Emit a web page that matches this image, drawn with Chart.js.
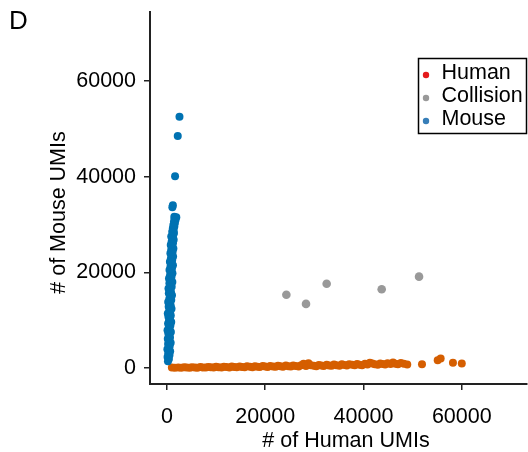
<!DOCTYPE html>
<html><head><meta charset="utf-8">
<script src="https://cdn.jsdelivr.net/npm/chart.js@4"></script>
<style>html,body{margin:0;padding:0;background:#fff}#wrap{width:528px;height:452px;position:relative}</style>
</head><body><div id="wrap"><canvas id="c" width="528" height="452"></canvas></div>
<script>
const panelLabel = 'D';
const xTitle = '# of Human UMIs';
const yTitle = '# of Mouse UMIs';
const seriesNames = ['Human', 'Collision', 'Mouse'];
const legendColors = ['#E41A1C', '#999999', '#377EB8'];
const pointColors = ['#D55E00', '#999999', '#0072B2'];
const xTicks = [0, 20000, 40000, 60000];
const yTicks = [0, 20000, 40000, 60000];

const humanX = [1000,1600,2300,2900,3500,4000,4600,5100,5700,6200,6800,7300,7900,8400,8900,9500,10000,10500,11100,11600,12100,12700,13200,13700,14200,14800,15300,15800,16300,16900,17400,17900,18400,18900,19500,20000,20500,21000,21600,22100,22600,23100,23600,24200,24700,25200,25700,26200,26800,27300,27800,28300,28800,29300,29900,30400,30900,31400,31900,32500,33000,33500,34000,34500,35100,35600,36100,36600,37100,37700,38200,38700,39200,39700,40300,40800,41300,41800,42300,42900,43400,43900,44400,44900,45500,46000,46500,47000,47600,48200,48900,51900,55100,55700,58200,60000];
const humanY = [80,40,120,60,150,90,30,160,110,60,200,130,80,220,150,100,240,170,90,260,190,130,300,210,140,320,230,160,350,250,180,380,280,200,400,300,220,430,330,250,460,350,270,500,380,300,530,400,320,560,900,440,1000,600,460,380,640,500,420,680,540,450,720,580,480,760,620,520,800,660,560,840,700,600,880,740,1100,920,780,680,960,820,720,1000,860,1150,900,800,1050,900,750,800,1600,2000,1100,950];

const collisionX = [24300, 28300, 32500, 43700, 51300];
const collisionY = [15300, 13400, 17600, 16450, 19100];

const mouseX = [200,400,120,520,260,650,90,380,560,230,760,350,170,620,460,280,800,120,520,380,700,230,870,440,600,300,780,170,660,500,930,350,750,560,250,880,480,700,1020,380,820,600,310,960,690,500,1100,780,410,920,620,1120,810,520,1020,720,1220,870,600,1070,800,1250,950,700,1150,870,1310,1020,770,1220,950,1370,1100,870,1270,1430,1070,1350,1200,1500,1310,1620,1430,1750,1560,1900,1500,1100,1200,1650,2200,2550];
const mouseY = [1400,1900,2300,2700,3100,3500,3900,4200,4600,5000,5300,5700,6100,6400,6800,7200,7500,7900,8200,8600,8900,9300,9600,10000,10300,10700,11000,11400,11700,12100,12400,12800,13100,13500,13800,14200,14500,14900,15200,15600,15900,16300,16600,17000,17300,17700,18000,18400,18700,19100,19400,19800,20100,20500,20800,21200,21500,21900,22200,22600,22900,23300,23600,24000,24300,24700,25000,25400,25700,26100,26400,26800,27100,27500,27800,28200,28500,28900,29200,29600,29900,30300,30600,31000,31300,31500,31600,33600,34000,40100,48500,52500];

const FONT = '"Liberation Sans", Arial, sans-serif';
const toPts = (xs, ys) => xs.map((x, i) => ({x: x, y: ys[i]}));

const annot = {
  id: 'annot',
  afterDraw(chart) {
    const ctx = chart.ctx;
    ctx.save();
    ctx.fillStyle = '#000';
    ctx.textAlign = 'left';
    ctx.textBaseline = 'alphabetic';
    ctx.font = '26px ' + FONT;
    ctx.fillText(panelLabel, 9, 29);
    ctx.font = '21.5px ' + FONT;
    ctx.textAlign = 'center';
    ctx.fillText(xTitle, 346, 446.5);
    ctx.save();
    ctx.translate(65, 212.5);
    ctx.rotate(-Math.PI / 2);
    ctx.fillText(yTitle, 0, 0);
    ctx.restore();
    // legend
    ctx.lineWidth = 1.5;
    ctx.strokeStyle = '#000';
    ctx.strokeRect(418.5, 58.5, 108, 75);
    ctx.textAlign = 'left';
    const base = [79, 102, 125];
    seriesNames.forEach((n, i) => {
      ctx.fillStyle = legendColors[i];
      ctx.beginPath();
      ctx.arc(426, base[i] - 4, 3.2, 0, Math.PI * 2);
      ctx.fill();
      ctx.fillStyle = '#000';
      ctx.fillText(n, 441.5, base[i]);
    });
    ctx.restore();
  }
};

const axisCommon = {
  type: 'linear',
  border: {display: true, color: '#222', width: 2},
  grid: {display: true, drawOnChartArea: false, drawTicks: true, tickLength: 6, color: '#222', lineWidth: 1.5},
  title: {display: false}
};
const tickFont = {family: FONT, size: 21.5};
const plain = v => String(v);

new Chart(document.getElementById('c'), {
  type: 'scatter',
  data: {
    datasets: [
      {label: 'Mouse', data: toPts(mouseX, mouseY), backgroundColor: pointColors[2], borderWidth: 0, pointRadius: 4},
      {label: 'Human', data: toPts(humanX, humanY), backgroundColor: pointColors[0], borderWidth: 0, pointRadius: 4},
      {label: 'Collision', data: toPts(collisionX, collisionY), backgroundColor: pointColors[1], borderWidth: 0, pointRadius: 4.3}
    ]
  },
  options: {
    responsive: false,
    animation: false,
    layout: {autoPadding: false, padding: {top: 12, right: 1, left: 0, bottom: 0}},
    plugins: {legend: {display: false}, tooltip: {enabled: false}},
    scales: {
      x: Object.assign({}, axisCommon, {
        min: -3450, max: 73270,
        ticks: {color: '#000', font: tickFont, padding: 14, maxRotation: 0, callback: plain},
        afterBuildTicks: s => { s.ticks = xTicks.map(v => ({value: v})); },
        afterFit: s => { s.height = 68; s.paddingLeft = 0; s.paddingRight = 0; }
      }),
      y: Object.assign({}, axisCommon, {
        min: -3345, max: 74420,
        ticks: {color: '#000', font: tickFont, padding: 8, callback: plain},
        afterBuildTicks: s => { s.ticks = yTicks.map(v => ({value: v})); },
        afterFit: s => { s.width = 150; s.paddingTop = 0; s.paddingBottom = 0; }
      })
    }
  },
  plugins: [annot]
});
</script>
</body></html>
